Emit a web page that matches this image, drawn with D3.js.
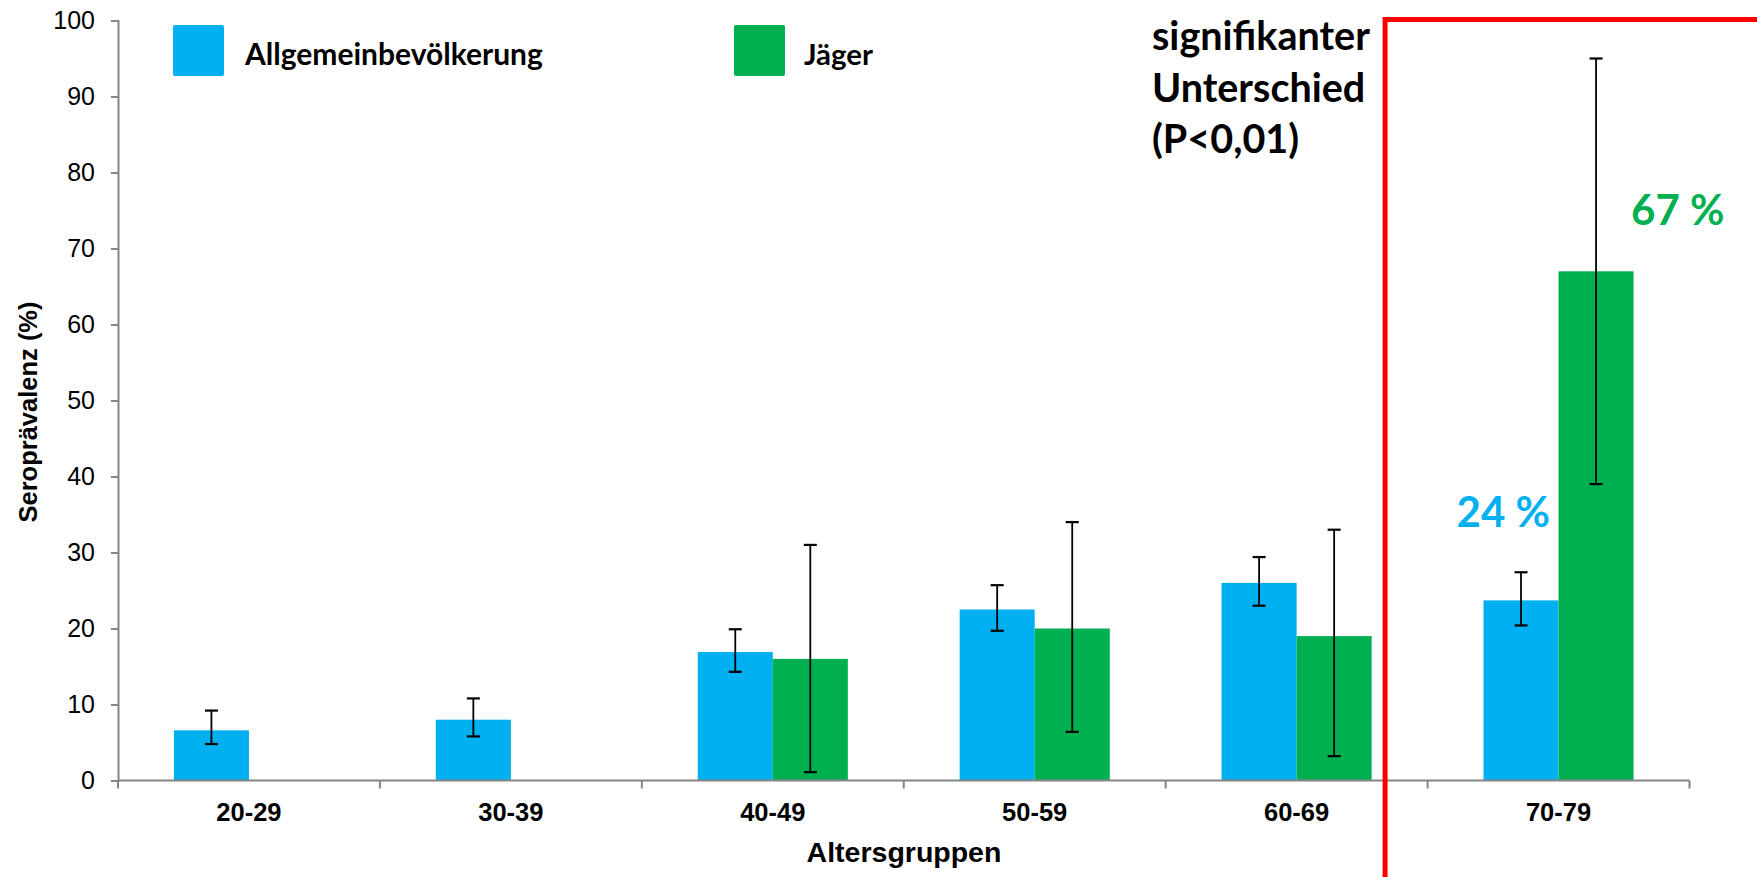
<!DOCTYPE html>
<html>
<head>
<meta charset="utf-8">
<script src="https://cdn.jsdelivr.net/npm/d3@7"></script>
<style>
  html, body { margin: 0; padding: 0; background: #fff; overflow: hidden; }
  svg { display: block; }
</style>
</head>
<body>
<svg id="chart" width="1757" height="877"></svg>
<script>
// ---- Data ----
const categories = ["20-29", "30-39", "40-49", "50-59", "60-69", "70-79"];
const seriesNames = ["Allgemeinbevölkerung", "Jäger"];
const allgemeinValues = [6.6, 8.0, 16.9, 22.5, 26.0, 23.7];
const allgemeinLow   = [4.8, 5.8, 14.3, 19.7, 23.0, 20.4];
const allgemeinHigh  = [9.2, 10.8, 19.9, 25.7, 29.4, 27.4];
const jaegerValues = [null, null, 16.0, 20.0, 19.0, 67.0];
const jaegerLow    = [null, null, 1.1, 6.4, 3.2, 39.0];
const jaegerHigh   = [null, null, 31.0, 34.0, 33.0, 95.0];
const yTicks = [0, 10, 20, 30, 40, 50, 60, 70, 80, 90, 100];
const highlightCategory = "70-79";
const annotationLines = ["signifikanter", "Unterschied", "(P<0,01)"];
const xTitle = "Altersgruppen";
const yTitle = "Seroprävalenz (%)";

const colors = { "Allgemeinbevölkerung": "#00B0F0", "Jäger": "#00B050" };

(function () {
// table built from arrays
const rows = [];
categories.forEach((c, i) => {
  rows.push({ cat: c, series: seriesNames[0], value: allgemeinValues[i], low: allgemeinLow[i], high: allgemeinHigh[i] });
  rows.push({ cat: c, series: seriesNames[1], value: jaegerValues[i], low: jaegerLow[i], high: jaegerHigh[i] });
});
const validRows = rows.filter(d => d.value !== null);

// ---- Layout ----
const svg = d3.select("#chart");
const mLeft = 118, mRight = 1689.5, mTop = 20.5, mBottom = 780.5;
const axisFont = "'Liberation Sans', Arial, sans-serif";
const calFont = "Lato, 'Open Sans', sans-serif";

const x0 = d3.scaleBand().domain(categories).range([mLeft, mRight]).paddingInner(0).paddingOuter(0);
const x1 = d3.scaleBand().domain(seriesNames).range([0, x0.bandwidth()]).paddingInner(0).paddingOuter(0.745);
const y = d3.scaleLinear().domain([0, 100]).range([mBottom, mTop]);

// Bars
svg.append("g").selectAll("rect")
  .data(validRows).join("rect")
  .attr("x", d => x0(d.cat) + x1(d.series))
  .attr("y", d => y(d.value))
  .attr("width", x1.bandwidth())
  .attr("height", d => y(0) - y(d.value))
  .attr("fill", d => colors[d.series]);

// Error bars
const eb = svg.append("g").attr("stroke", "#000");
validRows.forEach(d => {
  const cx = x0(d.cat) + x1(d.series) + x1.bandwidth() / 2;
  eb.append("line").attr("x1", cx).attr("x2", cx).attr("y1", y(d.low)).attr("y2", y(d.high)).attr("stroke-width", 1.8);
  [d.low, d.high].forEach(v => {
    eb.append("line").attr("x1", cx - 6.5).attr("x2", cx + 6.5).attr("y1", y(v)).attr("y2", y(v)).attr("stroke-width", 2.2);
  });
});

// Y axis
const yAxis = svg.append("g").attr("transform", `translate(${mLeft},0)`)
  .call(d3.axisLeft(y).tickValues(yTicks).tickSize(7).tickPadding(16).tickFormat(d3.format("d")));
yAxis.select(".domain").attr("stroke", "#868686").attr("stroke-width", 2);
yAxis.selectAll(".tick line").attr("stroke", "#868686").attr("stroke-width", 2);
yAxis.selectAll(".tick text").attr("font-family", axisFont).attr("font-size", 25).attr("fill", "#000");

// X axis (category boundaries as ticks)
const boundaries = categories.map(c => x0(c)).concat([x0(categories[categories.length - 1]) + x0.bandwidth()]);
const xg = svg.append("g");
xg.append("line").attr("x1", mLeft).attr("x2", mRight).attr("y1", mBottom).attr("y2", mBottom)
  .attr("stroke", "#868686").attr("stroke-width", 2.2);
xg.selectAll("line.t").data(boundaries).join("line").attr("class", "t")
  .attr("x1", d => d).attr("x2", d => d).attr("y1", mBottom).attr("y2", mBottom + 8)
  .attr("stroke", "#868686").attr("stroke-width", 2);
xg.selectAll("text").data(categories).join("text")
  .attr("x", d => x0(d) + x0.bandwidth() / 2).attr("y", 820.5)
  .attr("text-anchor", "middle").attr("font-family", axisFont).attr("font-weight", "bold")
  .attr("font-size", 25.5).text(d => d);

// Axis titles
svg.append("text").attr("x", 904).attr("y", 862).attr("text-anchor", "middle")
  .attr("font-family", axisFont).attr("font-weight", "bold").attr("font-size", 28.5).text(xTitle);
svg.append("text").attr("transform", "translate(37,412) rotate(-90)").attr("text-anchor", "middle")
  .attr("font-family", axisFont).attr("font-weight", "bold").attr("font-size", 25.5).text(yTitle);

// helper to fit text width
function fit(sel, target) {
  const w = sel.node().getComputedTextLength();
  const fs = parseFloat(sel.attr("font-size"));
  sel.attr("font-size", fs * target / w);
  return fs * target / w;
}

// Legend
const legendPos = [{ sx: 173, tx: 245, w: 298 }, { sx: 734, tx: 804, w: 69 }];
seriesNames.forEach((s, i) => {
  svg.append("rect").attr("x", legendPos[i].sx).attr("y", 25).attr("width", 51).attr("height", 51)
    .attr("rx", 2).attr("fill", colors[s]);
  const t = svg.append("text").attr("x", legendPos[i].tx).attr("y", 65)
    .attr("font-family", calFont).attr("font-weight", "bold").attr("font-size", 30).attr("fill", "#000").text(s);
  fit(t, legendPos[i].w);
});

// Highlight box
const hx = x0(highlightCategory) - 42.5;
svg.append("rect").attr("x", hx).attr("y", 19.5).attr("width", 600).attr("height", 1000)
  .attr("fill", "none").attr("stroke", "#FF0000").attr("stroke-width", 5);

// Annotation text
const a0 = svg.append("text").attr("x", 1152).attr("y", 50).attr("font-family", calFont)
  .attr("font-weight", "bold").attr("font-size", 40).text(annotationLines[0]);
const afs = fit(a0, 218);
annotationLines.slice(1).forEach((l, i) => {
  svg.append("text").attr("x", 1152).attr("y", 50 + 51.5 * (i + 1)).attr("font-family", calFont)
    .attr("font-weight", "bold").attr("font-size", afs).text(l);
});

// Percentage labels for highlighted group
const hi = categories.indexOf(highlightCategory);
const pctLabels = [
  { series: seriesNames[0], value: allgemeinValues[hi], x: 1456.5, y: 527.3 },
  { series: seriesNames[1], value: jaegerValues[hi], x: 1631, y: 225 }
];
pctLabels.forEach(p => {
  const t = svg.append("text").attr("x", p.x).attr("y", p.y).attr("font-family", calFont)
    .attr("font-weight", "bold").attr("font-size", 44).attr("fill", colors[p.series])
    .text(Math.round(p.value) + " %");
  fit(t, 93.5);
});
})();
</script>
</body>
</html>
